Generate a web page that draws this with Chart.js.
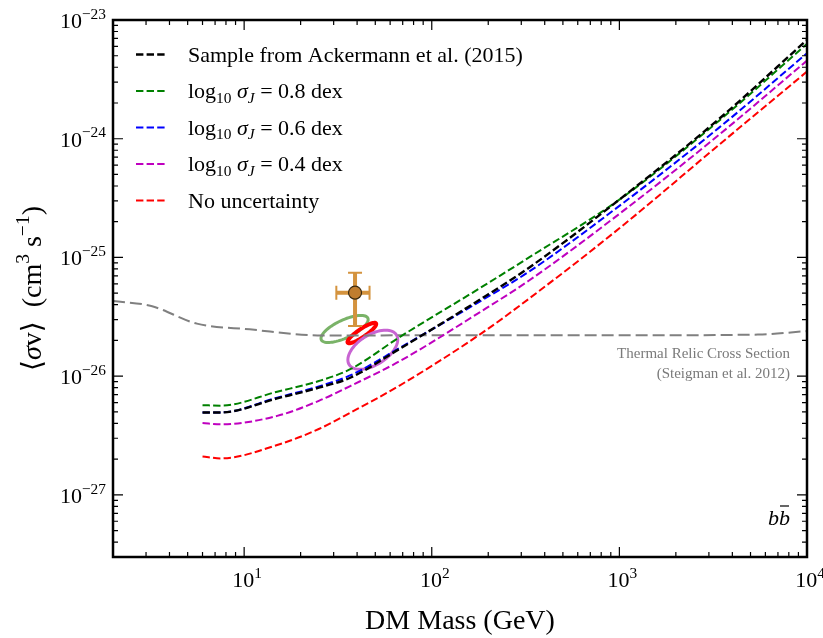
<!DOCTYPE html>
<html lang="en">
<head>
<meta charset="UTF-8">
<title>DM annihilation cross-section limits</title>
<style>
  body { margin: 0; background: #ffffff; }
  #wrap { position: relative; width: 823px; height: 638px; }
</style>
<script src="https://cdn.jsdelivr.net/npm/chart.js@4.4.1/dist/chart.umd.min.js"></script>
</head>
<body>
<div id="wrap"><canvas id="chart"></canvas></div>
<script>
// ---- data ----
const massGeV = [6, 7.5, 15, 25, 37, 67, 180, 330, 1000, 3400, 10000];
const sampleAckermann = [4.95e-27, 4.95e-27, 6.5e-27, 8.0e-27, 9.75e-27, 1.69e-26, 4.4e-26, 8.2e-26, 3.07e-25, 1.47e-24, 6.8e-24];
const sigmaJ08 = [5.7e-27, 5.65e-27, 7.4e-27, 9.1e-27, 1.15e-26, 2.12e-26, 5.5e-26, 1.0e-25, 3.07e-25, 1.42e-24, 6.3e-24];
const sigmaJ06 = [4.95e-27, 4.95e-27, 6.6e-27, 8.2e-27, 1.02e-26, 1.72e-26, 4.25e-26, 7.6e-26, 2.72e-25, 1.24e-24, 5.25e-24];
const sigmaJ04 = [4.03e-27, 3.93e-27, 4.63e-27, 6.2e-27, 8.3e-27, 1.33e-26, 3.45e-26, 6.4e-26, 2.33e-25, 1.08e-24, 4.55e-24];
const noUncertainty = [2.11e-27, 2.03e-27, 2.63e-27, 3.59e-27, 4.95e-27, 8.3e-27, 2.24e-26, 4.5e-26, 1.76e-25, 8.9e-25, 3.68e-24];

// thermal relic cross section (Steigman et al. 2012)
const relicMass = [2, 3.2, 5.6, 10.7, 26, 100, 1000, 5500, 10000];
const relicSigmaV = [4.3e-26, 3.9e-26, 2.77e-26, 2.48e-26, 2.2e-26, 2.21e-26, 2.21e-26, 2.24e-26, 2.4e-26];

// best-fit point with error bars
const gcMass = [39];
const gcSigmaV = [5.05e-26];
const gcMassRange = [31, 46.6];
const gcSigmaVRange = [2.65e-26, 7.43e-26];

// contours: centre, and two semi-axis vectors in decades (log mass, log sigma v)
const ellipseMass = [34.3, 42.4, 48.5];
const ellipseSigmaV = [2.5e-26, 2.31e-26, 1.67e-26];
const ellipseMajorDex = [[0.124, 0.0912], [0.0755, 0.0811], [0.1258, 0.126]];
const ellipseMinorDex = [[-0.0202, 0.0686], [-0.0119, 0.0279], [-0.0428, 0.1064]];

const xTickValues = [10, 100, 1000, 10000];
const yTickValues = [1e-27, 1e-26, 1e-25, 1e-24, 1e-23];

// ---- styles ----
const FONT = '"Liberation Serif", "DejaVu Serif", serif';
const ellipseColors = ['#7ab368', '#ff0000', '#c864d2'];
const ellipseWidths = [3, 4, 3];
const DASH = [7.4, 3.2];

function pts(xs, ys) {
    return xs.map((x, i) => ({ x: x, y: ys[i] }));
}

// tiny rich-text: _{sub} ^{sup} $italic$
function parseRich(s) {
    const segs = [];
    let italic = false, level = 0, buf = '';
    const push = () => { if (buf) segs.push({ t: buf, level: level, italic: italic }); buf = ''; };
    for (let i = 0; i < s.length; i++) {
        const c = s[i];
        if (c === '$') { push(); italic = !italic; }
        else if ((c === '_' || c === '^') && s[i + 1] === '{') { push(); level = c === '^' ? 1 : -1; i++; }
        else if (c === '}' && level !== 0) { push(); level = 0; }
        else buf += c;
    }
    push();
    return segs;
}

function fontFor(sg, size) {
    const sz = sg.level ? size * 0.7 : size;
    return (sg.italic ? 'italic ' : '') + sz.toFixed(1) + 'px ' + FONT;
}

function drawRich(ctx, s, x, y, size, align, color) {
    const segs = parseRich(s);
    let w = 0;
    segs.forEach(sg => { ctx.font = fontFor(sg, size); w += ctx.measureText(sg.t).width; });
    let cx = align === 'right' ? x - w : align === 'center' ? x - w / 2 : x;
    ctx.fillStyle = color;
    ctx.textAlign = 'left';
    ctx.textBaseline = 'alphabetic';
    segs.forEach(sg => {
        ctx.font = fontFor(sg, size);
        const dy = sg.level === 1 ? -0.42 * size : sg.level === -1 ? 0.22 * size : 0;
        ctx.fillText(sg.t, cx, y + dy);
        cx += ctx.measureText(sg.t).width;
    });
    return w;
}

function powLabel(v) {
    const e = Math.round(Math.log10(v));
    return '10^{' + String(e).replace('-', '\u2212') + '}';
}

// error bars and contours, under the lines
const underlayPlugin = {
    id: 'underlay',
    beforeDatasetsDraw(chart) {
        const ctx = chart.ctx, xs = chart.scales.x, ys = chart.scales.y;
        const area = chart.chartArea;
        ctx.save();
        ctx.beginPath();
        ctx.rect(area.left, area.top, area.right - area.left, area.bottom - area.top);
        ctx.clip();

        // contours
        ellipseMass.forEach((m, k) => {
            const lx = Math.log10(m), ly = Math.log10(ellipseSigmaV[k]);
            const a = ellipseMajorDex[k], b = ellipseMinorDex[k];
            ctx.beginPath();
            for (let i = 0; i <= 72; i++) {
                const t = i / 72 * Math.PI * 2;
                const px = xs.getPixelForValue(Math.pow(10, lx + a[0] * Math.cos(t) + b[0] * Math.sin(t)));
                const py = ys.getPixelForValue(Math.pow(10, ly + a[1] * Math.cos(t) + b[1] * Math.sin(t)));
                if (i === 0) ctx.moveTo(px, py); else ctx.lineTo(px, py);
            }
            ctx.closePath();
            ctx.strokeStyle = ellipseColors[k];
            ctx.lineWidth = ellipseWidths[k];
            ctx.stroke();
        });

        // error bars
        const cx = xs.getPixelForValue(gcMass[0]), cy = ys.getPixelForValue(gcSigmaV[0]);
        const x0 = xs.getPixelForValue(gcMassRange[0]), x1 = xs.getPixelForValue(gcMassRange[1]);
        const y0 = ys.getPixelForValue(gcSigmaVRange[0]), y1 = ys.getPixelForValue(gcSigmaVRange[1]);
        ctx.strokeStyle = '#d4933e';
        ctx.lineWidth = 4;
        ctx.beginPath();
        ctx.moveTo(x0, cy); ctx.lineTo(x1, cy);
        ctx.moveTo(cx, y0); ctx.lineTo(cx, y1);
        ctx.stroke();
        ctx.lineWidth = 2;
        ctx.beginPath();
        ctx.moveTo(x0, cy - 7); ctx.lineTo(x0, cy + 7);
        ctx.moveTo(x1, cy - 7); ctx.lineTo(x1, cy + 7);
        ctx.moveTo(cx - 7, y0); ctx.lineTo(cx + 7, y0);
        ctx.moveTo(cx - 7, y1); ctx.lineTo(cx + 7, y1);
        ctx.stroke();
        ctx.restore();
    }
};

// frame, inward ticks, labels, legend and annotations
const framePlugin = {
    id: 'frame',
    afterDraw(chart) {
        const ctx = chart.ctx, xs = chart.scales.x, ys = chart.scales.y;
        const a = chart.chartArea;
        ctx.save();

        // ticks
        ctx.strokeStyle = '#000';
        ctx.lineWidth = 1.2;
        ctx.beginPath();
        for (let e = Math.floor(Math.log10(xs.min)); e <= Math.ceil(Math.log10(xs.max)); e++) {
            for (let m = 1; m <= 9; m++) {
                const v = m * Math.pow(10, e);
                if (v < xs.min * 0.999 || v > xs.max * 1.001) continue;
                const px = xs.getPixelForValue(v), len = m === 1 ? 10 : 5;
                ctx.moveTo(px, a.bottom); ctx.lineTo(px, a.bottom - len);
                ctx.moveTo(px, a.top); ctx.lineTo(px, a.top + len);
            }
        }
        for (let e = Math.floor(Math.log10(ys.min)); e <= Math.ceil(Math.log10(ys.max)); e++) {
            for (let m = 1; m <= 9; m++) {
                const v = m * Math.pow(10, e);
                if (v < ys.min * 0.999 || v > ys.max * 1.001) continue;
                const py = ys.getPixelForValue(v), len = m === 1 ? 10 : 5;
                ctx.moveTo(a.left, py); ctx.lineTo(a.left + len, py);
                ctx.moveTo(a.right, py); ctx.lineTo(a.right - len, py);
            }
        }
        ctx.stroke();

        // frame
        ctx.lineWidth = 2.5;
        ctx.strokeRect(a.left, a.top, a.right - a.left, a.bottom - a.top);

        // tick labels
        xTickValues.forEach(v => drawRich(ctx, powLabel(v), xs.getPixelForValue(v) + 3, a.bottom + 30, 22, 'center', '#000'));
        yTickValues.forEach(v => drawRich(ctx, powLabel(v), a.left - 7, ys.getPixelForValue(v) + 8, 22, 'right', '#000'));

        // axis titles
        drawRich(ctx, 'DM Mass (GeV)', (a.left + a.right) / 2, 629, 28, 'center', '#000');
        ctx.save();
        ctx.translate(41, (a.top + a.bottom) / 2);
        ctx.rotate(-Math.PI / 2);
        drawRich(ctx, '\u27e8$\u03c3$v\u27e9  (cm^{3} s^{\u22121})', 0, 0, 28, 'center', '#000');
        ctx.restore();

        // legend
        let row = 0;
        chart.data.datasets.forEach(ds => {
            if (!ds.inLegend) return;
            const y = 54.5 + row * 36.5;
            ctx.beginPath();
            ctx.setLineDash(ds.borderDash || []);
            ctx.strokeStyle = ds.borderColor;
            ctx.lineWidth = ds.borderWidth;
            ctx.moveTo(136, y); ctx.lineTo(167, y);
            ctx.stroke();
            ctx.setLineDash([]);
            drawRich(ctx, ds.label, 188, y + 7, 22, 'left', '#000');
            row++;
        });

        // thermal relic annotation
        ctx.font = '15px ' + FONT;
        ctx.fillStyle = '#7a7a7a';
        ctx.textAlign = 'right';
        ctx.textBaseline = 'alphabetic';
        ctx.fillText('Thermal Relic Cross Section', 790, 358);
        ctx.fillText('(Steigman et al. 2012)', 790, 378);

        // b bbar channel label
        ctx.font = 'italic 22px ' + FONT;
        ctx.fillStyle = '#000';
        ctx.textAlign = 'left';
        const wb = ctx.measureText('b').width;
        const bx = 790 - 2 * wb;
        ctx.fillText('bb', bx, 525);
        ctx.lineWidth = 1.2;
        ctx.strokeStyle = '#000';
        ctx.beginPath();
        ctx.moveTo(bx + wb + 1, 506); ctx.lineTo(bx + 2 * wb - 1, 506);
        ctx.stroke();

        ctx.restore();
    }
};

const curveStyle = { pointRadius: 0, borderWidth: 2, borderDash: DASH, fill: false, cubicInterpolationMode: 'monotone', inLegend: true };

new Chart(document.getElementById('chart'), {
    type: 'line',
    data: {
        datasets: [
            {
                label: 'Best fit', data: pts(gcMass, gcSigmaV), showLine: false,
                pointRadius: 6.5, pointBackgroundColor: '#c07d2e', pointBorderColor: '#3a2a10', pointBorderWidth: 1.2
            },
            Object.assign({}, curveStyle, { label: 'Sample from Ackermann et al. (2015)', data: pts(massGeV, sampleAckermann), borderColor: '#000000', borderWidth: 2.4 }),
            Object.assign({}, curveStyle, { label: 'log_{10} $\u03c3$_{$J$} = 0.8 dex', data: pts(massGeV, sigmaJ08), borderColor: '#008000' }),
            Object.assign({}, curveStyle, { label: 'log_{10} $\u03c3$_{$J$} = 0.6 dex', data: pts(massGeV, sigmaJ06), borderColor: '#0000ff' }),
            Object.assign({}, curveStyle, { label: 'log_{10} $\u03c3$_{$J$} = 0.4 dex', data: pts(massGeV, sigmaJ04), borderColor: '#bf00bf' }),
            Object.assign({}, curveStyle, { label: 'No uncertainty', data: pts(massGeV, noUncertainty), borderColor: '#ff0000' }),
            {
                label: 'Thermal relic', data: pts(relicMass, relicSigmaV), borderColor: '#808080',
                borderWidth: 2, borderDash: [12, 5], pointRadius: 0, fill: false, cubicInterpolationMode: 'monotone'
            }
        ]
    },
    options: {
        responsive: true,
        maintainAspectRatio: false,
        animation: false,
        events: [],
        layout: { padding: { left: 113, right: 16, top: 20, bottom: 81 } },
        plugins: { legend: { display: false }, tooltip: { enabled: false } },
        scales: {
            x: { type: 'logarithmic', min: 2, max: 10000, display: false },
            y: { type: 'logarithmic', min: 3e-28, max: 1e-23, display: false }
        }
    },
    plugins: [underlayPlugin, framePlugin]
});
</script>
</body>
</html>
